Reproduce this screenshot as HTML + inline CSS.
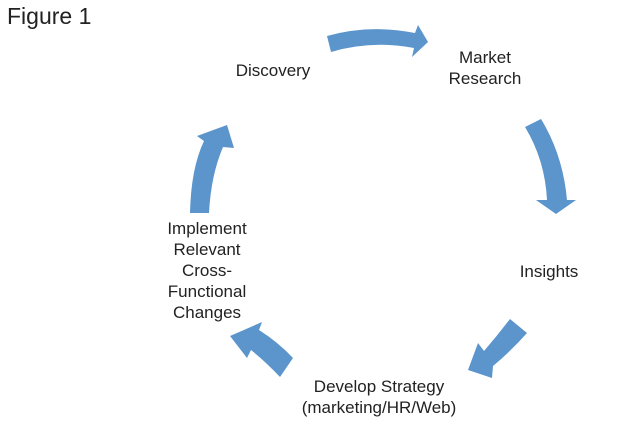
<!DOCTYPE html>
<html><head><meta charset="utf-8"><style>
html,body{margin:0;padding:0;background:#fff;}
body{width:640px;height:435px;position:relative;overflow:hidden;font-family:"Liberation Sans",sans-serif;color:#222;}
.t{position:absolute;font-size:17px;line-height:21px;text-align:center;transform:translateX(-50%);white-space:nowrap;}
</style></head><body>
<svg width="640" height="435" style="position:absolute;left:0;top:0">
<g fill="#5b95cc">
<path d="M327,36 Q370,24 415,33 L418,25 L428,42 L412,57 L414,48 Q372,40 331,52 Z"/>
<path d="M525,127 L541,119 Q563,155 567,200 L576,200 L556,214 L536,200 L547,200 Q545,160 525,127 Z"/>
<path d="M190,213 Q191,168 204,141 L197,136 L227,125 L234,148 L223,147 Q211,175 209,213 Z"/>
<path d="M293,358 Q278,342 259,330 L262,322 L230,336 L247,358 L251,350 Q266,362 280,377 Z"/>
<path d="M510,319 L527,333 Q510,352 493,366 L492,378 L468,370 L478,343 L484,351 Q497,336 510,319 Z"/>
</g>
</svg>
<div style="position:absolute;left:7px;top:3px;font-size:23px;">Figure 1</div>
<div class="t" style="left:273px;top:60px;">Discovery</div>
<div class="t" style="left:485px;top:47px;">Market<br>Research</div>
<div class="t" style="left:549px;top:261px;">Insights</div>
<div class="t" style="left:207px;top:218px;">Implement<br>Relevant<br>Cross-<br>Functional<br>Changes</div>
<div class="t" style="left:379px;top:376px;">Develop Strategy<br>(marketing/HR/Web)</div>
</body></html>
